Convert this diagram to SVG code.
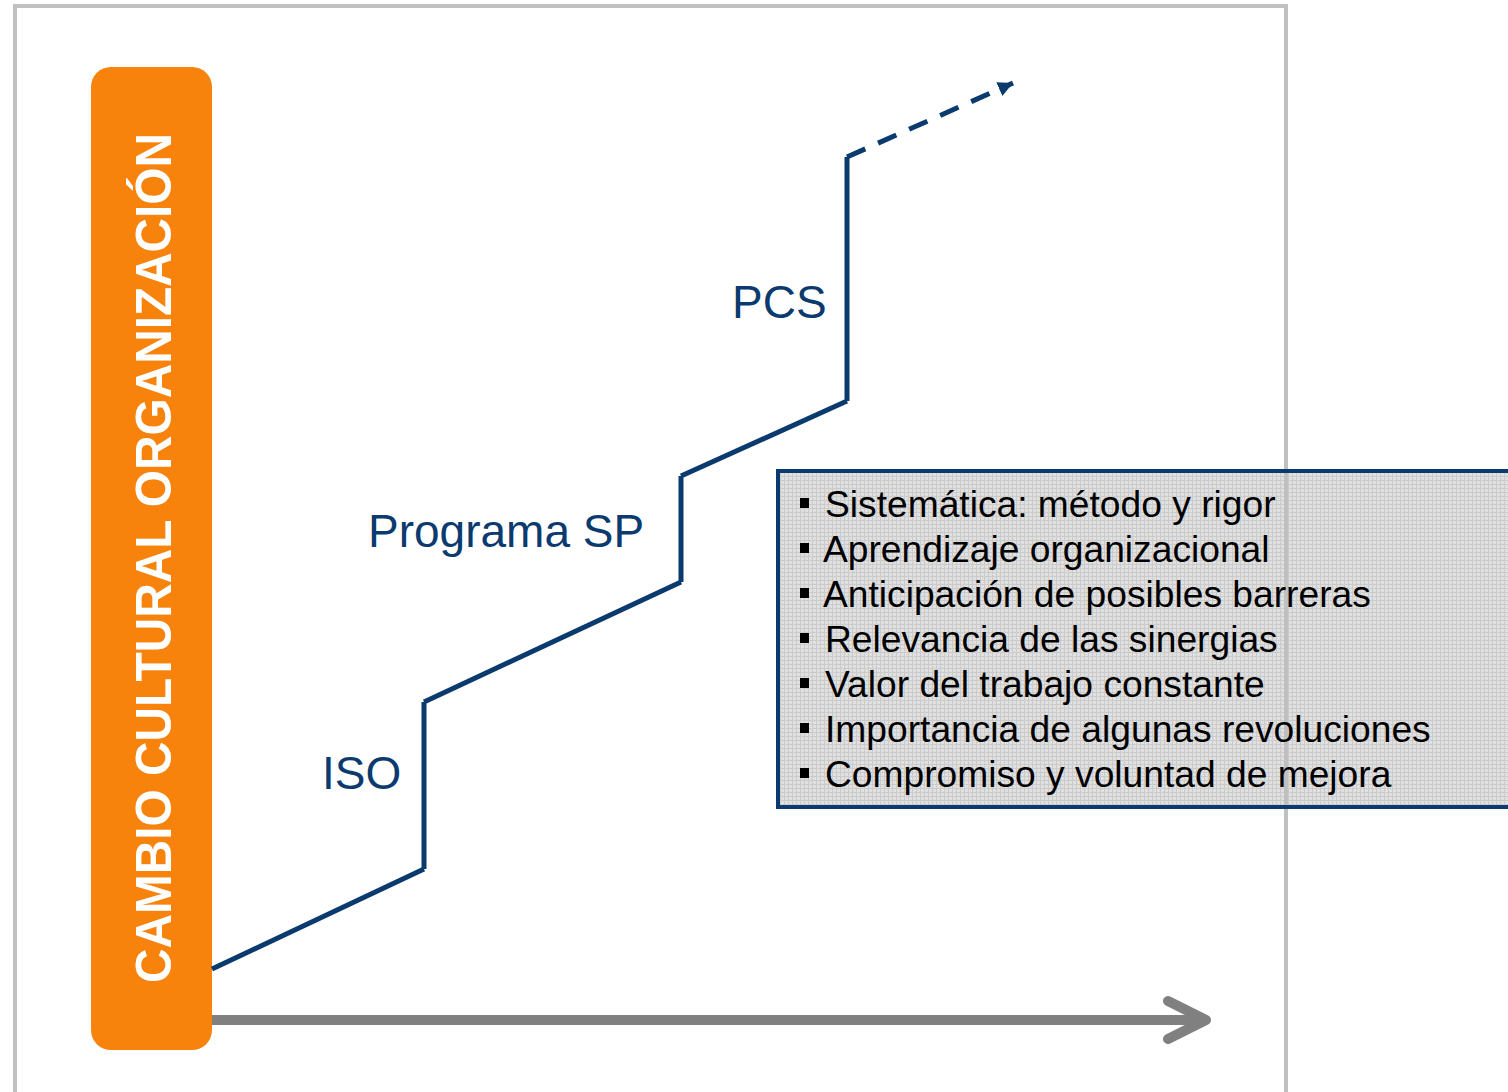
<svg xmlns="http://www.w3.org/2000/svg" width="1508" height="1092" viewBox="0 0 1508 1092">
<style>
.lbl{font-family:"Liberation Sans",Arial,sans-serif;font-size:46px;fill:#0a3a6e}
.item{font-family:"Liberation Sans",Arial,sans-serif;font-size:37.2px;fill:#000}
.bul{fill:#000}
.step{fill:none;stroke:#0a3a6e;stroke-width:5}
</style>
<defs>
<pattern id="grid" width="4" height="4" patternUnits="userSpaceOnUse">
<rect width="4" height="4" fill="#e0e0e0"/>
<path d="M0 0.5H4M0.5 0V4" stroke="#cbcbcb" stroke-width="1"/>
</pattern>
<marker id="tip" markerWidth="4" markerHeight="4" refX="3" refY="1.5" orient="auto" markerUnits="strokeWidth">
<path d="M0,0 L3,1.5 L0,3 Z" fill="#0a3a6e"/>
</marker>
</defs>
<rect width="1508" height="1092" fill="#fff"/>
<g id="bullets-box">
<rect x="778" y="471" width="740" height="336" fill="url(#grid)"/>
</g>
<rect id="frame" x="15" y="6" width="1271" height="1120" fill="none" stroke="#c0c0c0" stroke-width="4"/>
<g id="bullets-box-border">
<rect x="778" y="471" width="740" height="336" fill="none" stroke="#0a3a6e" stroke-width="4"/>
</g>
<g id="bullets-text">
<rect class="bul" x="800" y="498" width="9" height="10"/>
<text class="item" x="825" y="517">Sistemática: método y rigor</text>
<rect class="bul" x="800" y="543" width="9" height="10"/>
<text class="item" x="823" y="562">Aprendizaje organizacional</text>
<rect class="bul" x="800" y="588" width="9" height="10"/>
<text class="item" x="823" y="607">Anticipación de posibles barreras</text>
<rect class="bul" x="800" y="633" width="9" height="10"/>
<text class="item" x="825" y="652">Relevancia de las sinergias</text>
<rect class="bul" x="800" y="678" width="9" height="10"/>
<text class="item" x="825" y="697">Valor del trabajo constante</text>
<rect class="bul" x="800" y="723" width="9" height="10"/>
<text class="item" x="825" y="742">Importancia de algunas revoluciones</text>
<rect class="bul" x="800" y="768" width="9" height="10"/>
<text class="item" x="825" y="787">Compromiso y voluntad de mejora</text>
</g>
<g id="axis-label">
<rect x="91" y="67" width="121" height="983" rx="20" ry="20" fill="#f7820c"/>
<text transform="translate(171,983) rotate(-90)" font-family="'Liberation Sans',Arial,sans-serif" font-weight="bold" font-size="50" fill="#fff" textLength="850" lengthAdjust="spacingAndGlyphs">CAMBIO CULTURAL ORGANIZACIÓN</text>
</g>
<g id="connectors">
<path class="step" d="M212,969 L424,869 M424,869 L424,702 M424,702 L681,582 M681,582 L681,476 M681,476 L847,401 M847,401 L847,157"/>
<path d="M847,157 L1013,83" fill="none" stroke="#0a3a6e" stroke-width="5" stroke-dasharray="20 14" marker-end="url(#tip)"/>
<path d="M212,1020 L1200,1020" stroke="#808080" stroke-width="10" fill="none"/>
<path d="M1168,1001 L1206,1020 L1168,1039" stroke="#808080" stroke-width="10" fill="none" stroke-linecap="round" stroke-linejoin="round"/>
</g>
<g id="stage-iso"><text class="lbl" x="322" y="789">ISO</text></g>
<g id="stage-sp"><text class="lbl" x="368" y="547">Programa SP</text></g>
<g id="stage-pcs"><text class="lbl" x="732" y="318">PCS</text></g>
</svg>
